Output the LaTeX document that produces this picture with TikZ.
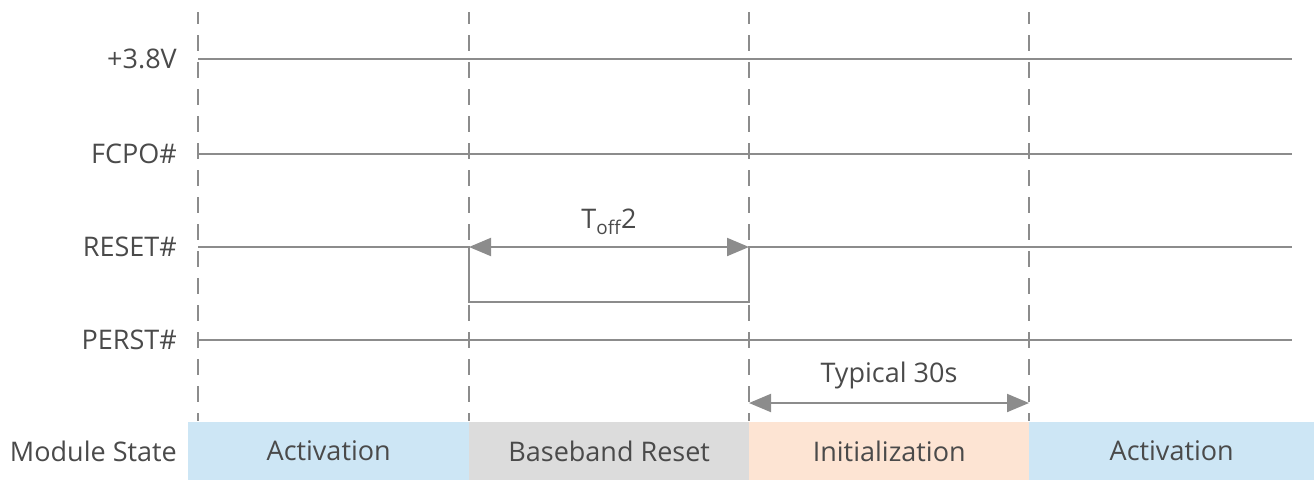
\documentclass[tikz,border=0pt]{standalone}
\usepackage{fontspec}
\setmainfont{Open Sans}
\usetikzlibrary{arrows.meta}
\definecolor{sig}{HTML}{8C8C8C}
\definecolor{txt}{HTML}{4A4A4A}
\definecolor{actblue}{HTML}{CDE6F5}
\definecolor{rstgray}{HTML}{DCDCDC}
\definecolor{initpeach}{HTML}{FDE4D3}
\tikzset{
  lbl/.style={anchor=east, text=txt, inner sep=0pt, font=\fontsize{27}{31}\selectfont},
  txtlbl/.style={text=txt, inner sep=0pt, font=\fontsize{27}{31}\selectfont},
  sigline/.style={draw=sig, line width=2pt},
  guide/.style={draw=sig, line width=2pt, dash pattern=on 16pt off 11pt, dash phase=4pt},
  dim/.style={draw=sig, line width=2pt, {Triangle[length=22pt,width=18pt]}-{Triangle[length=22pt,width=18pt]}},
  statebox/.style={minimum height=58pt, inner sep=0pt, text=txt, font=\fontsize{27}{31}\selectfont, anchor=north west}
}
\begin{document}
\begin{tikzpicture}[x=1pt,y=-1pt]
\useasboundingbox (0,0) rectangle (1314,480);
% state boxes
\node[statebox, fill=actblue, minimum width=281pt] (s1) at (188,422) {Activation};
\node[statebox, fill=rstgray, minimum width=280pt] (s2) at (469,422) {Baseband Reset};
\node[statebox, fill=initpeach, minimum width=280pt] (s3) at (749,422) {Initialization};
\node[statebox, fill=actblue, minimum width=285pt] (s4) at (1029,422) {Activation};
% guides
\foreach \x/\n in {198/a,469/b,749/c,1029/d}{
  \coordinate (g\n t) at (\x,12);
  \coordinate (g\n b) at (\x,421);
  \draw[guide] (g\n t) -- (g\n b);
}
% labels
\node[lbl] (l1) at (177,59) {+3.8V};
\node[lbl] (l2) at (177,154) {FCPO\#};
\node[lbl] (l3) at (177,247) {RESET\#};
\node[lbl] (l4) at (177,340) {PERST\#};
\node[lbl] (l5) at (177,451) {Module State};
% signals
\coordinate (v0) at (198,59);  \coordinate (v1) at (1292,59);
\coordinate (f0) at (198,154); \coordinate (f1) at (1292,154);
\coordinate (r0) at (198,247); \coordinate (r1) at (469,247);
\coordinate (r2) at (469,302); \coordinate (r3) at (749,302);
\coordinate (r4) at (749,247); \coordinate (r5) at (1292,247);
\coordinate (p0) at (198,340); \coordinate (p1) at (1292,340);
\draw[sigline] (v0) -- (v1);
\draw[sigline] (f0) -- (f1);
\draw[sigline] (r0) -- (r1) -- (r2) -- (r3) -- (r4) -- (r5);
\draw[sigline] (p0) -- (p1);
% dimension arrows
\draw[dim] (r1) -- (r4);
\node[txtlbl] (toff) at (609,222) {T\textsubscript{off}2};
\coordinate (t0) at (749,403); \coordinate (t1) at (1029,403);
\draw[dim] (t0) -- (t1);
\node[txtlbl] (typ) at (889,375) {Typical 30s};
\end{tikzpicture}
\end{document}
